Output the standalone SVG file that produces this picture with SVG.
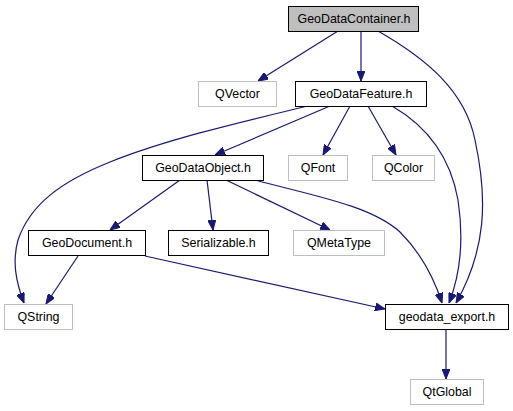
<svg xmlns="http://www.w3.org/2000/svg" width="513" height="411" viewBox="0 0 513 411">
<style>
.n rect{stroke-width:1}
.main rect{fill:#bfbfbf;stroke:#000}
.inc rect{fill:#fff;stroke:#000}
.ext rect{fill:#fff;stroke:#bfbfbf}
text{font-family:"Liberation Sans",Arial,sans-serif;font-size:12.4px;fill:#000;text-anchor:middle}
.e path{fill:none;stroke:#191970;stroke-width:1.2}
</style>
<defs>
<marker id="a" viewBox="0 0 10 8" refX="10" refY="4" markerWidth="10" markerHeight="8" markerUnits="userSpaceOnUse" orient="auto">
<path d="M0,0 L10,4 L0,8 Z" fill="#191970" stroke="#191970"/>
</marker>
</defs>
<rect width="513" height="411" fill="#fff"/>
<g class="e" id="connectors">
<path marker-end="url(#a)" d="M338,31 L258,81"/>
<path marker-end="url(#a)" d="M361,31 L361,81"/>
<path marker-end="url(#a)" d="M378,31 C425,58 465,90 475,140 C488,200 486,250 456,303"/>
<path marker-end="url(#a)" d="M308,106 C250,120 170,138 110,162 C60,182 30,205 18,240 C12,262 16,282 24,303"/>
<path marker-end="url(#a)" d="M330,106 L215,155"/>
<path marker-end="url(#a)" d="M350,106 L323,155"/>
<path marker-end="url(#a)" d="M368,106 L396,155"/>
<path marker-end="url(#a)" d="M392,106 C425,125 450,155 458,200 C464,240 460,275 449,303"/>
<path marker-end="url(#a)" d="M180,180 L110,230"/>
<path marker-end="url(#a)" d="M207,180 L213,230"/>
<path marker-end="url(#a)" d="M226,180 L330,230"/>
<path marker-end="url(#a)" d="M255,180 C310,195 370,205 400,232 C420,252 433,275 442,303"/>
<path marker-end="url(#a)" d="M78,256 L46,304"/>
<path marker-end="url(#a)" d="M145,256 L385,309"/>
<path marker-end="url(#a)" d="M446,329 L446,379"/>
</g>
<g class="n main" id="GeoDataContainer"><rect x="288.5" y="6.5" width="130" height="25"/><text x="354" y="23">GeoDataContainer.h</text></g>
<g class="n ext" id="QVector"><rect x="198.5" y="81.5" width="78" height="25"/><text x="237.5" y="98">QVector</text></g>
<g class="n inc" id="GeoDataFeature"><rect x="295.5" y="81.5" width="131" height="25"/><text x="361" y="98">GeoDataFeature.h</text></g>
<g class="n inc" id="GeoDataObject"><rect x="142.5" y="155.5" width="121" height="25"/><text x="203" y="172">GeoDataObject.h</text></g>
<g class="n ext" id="QFont"><rect x="288.5" y="155.5" width="59" height="25"/><text x="318" y="172">QFont</text></g>
<g class="n ext" id="QColor"><rect x="372.5" y="155.5" width="62" height="25"/><text x="403.5" y="172">QColor</text></g>
<g class="n inc" id="GeoDocument"><rect x="28.5" y="230.5" width="117" height="25"/><text x="87" y="247">GeoDocument.h</text></g>
<g class="n inc" id="Serializable"><rect x="168.5" y="230.5" width="100" height="25"/><text x="218.5" y="247">Serializable.h</text></g>
<g class="n ext" id="QMetaType"><rect x="293.5" y="230.5" width="91" height="25"/><text x="339" y="247">QMetaType</text></g>
<g class="n ext" id="QString"><rect x="4.5" y="304.5" width="68" height="25"/><text x="38.5" y="321">QString</text></g>
<g class="n inc" id="geodata_export"><rect x="385.5" y="304.5" width="123" height="25"/><text x="447" y="321">geodata_export.h</text></g>
<g class="n ext" id="QtGlobal"><rect x="410.5" y="379.5" width="73" height="25"/><text x="447" y="396">QtGlobal</text></g>
</svg>
